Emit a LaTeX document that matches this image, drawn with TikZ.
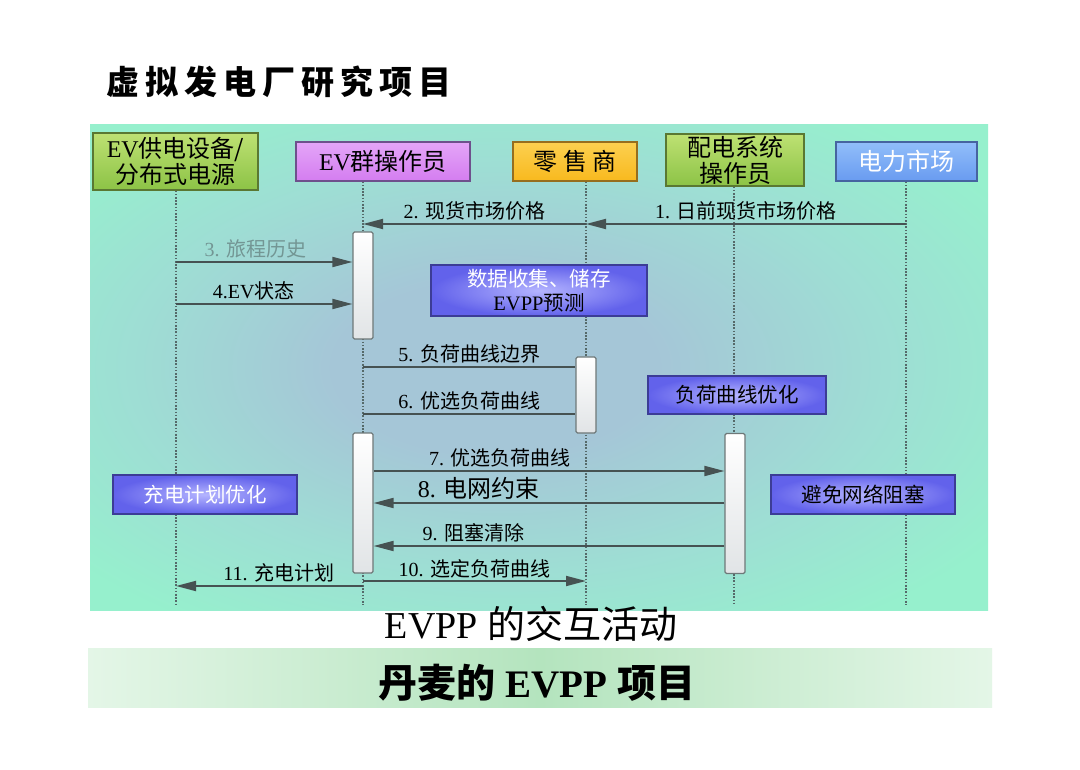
\documentclass[tikz,border=0pt]{standalone}
\usepackage{fontspec}
\setmainfont{Liberation Serif}
\newfontfamily\cjk{Noto Sans CJK SC}
\newfontfamily\cjktitle[LetterSpace=18]{Noto Sans CJK SC}
\newcommand\zh[1]{{\cjk #1}}
\usetikzlibrary{arrows.meta}
\definecolor{mint}{RGB}{150,240,205}
\definecolor{bgmid}{RGB}{165,198,215}
\definecolor{bgteal}{RGB}{158,222,212}
\definecolor{bandL}{RGB}{228,246,231}
\definecolor{bandM}{RGB}{180,228,190}
\definecolor{actgreen}{RGB}{140,195,70}
\definecolor{actgreenL}{RGB}{190,225,115}
\definecolor{actgreenD}{RGB}{90,120,50}
\definecolor{violet}{RGB}{212,125,240}
\definecolor{violetL}{RGB}{228,165,248}
\definecolor{violetD}{RGB}{110,80,140}
\definecolor{orange}{RGB}{248,185,30}
\definecolor{orangeL}{RGB}{252,208,80}
\definecolor{orangeD}{RGB}{150,110,30}
\definecolor{mktblue}{RGB}{105,155,240}
\definecolor{mktblueL}{RGB}{145,190,250}
\definecolor{mktblueD}{RGB}{70,100,160}
\definecolor{noteC}{RGB}{98,98,235}
\definecolor{noteL}{RGB}{180,180,255}
\definecolor{noteD}{RGB}{60,60,150}
\definecolor{barD}{RGB}{110,120,120}
\definecolor{barL}{RGB}{225,228,230}
\definecolor{msgC}{RGB}{70,82,82}
\definecolor{lifeC}{RGB}{85,105,105}
\definecolor{grayText}{RGB}{115,150,148}
\pgfdeclareradialshading{bgshade}{\pgfpoint{-3bp}{0bp}}{color(0bp)=(bgmid); color(9bp)=(bgmid);
  color(21bp)=(bgteal); color(32bp)=(mint); color(50bp)=(mint)}

\begin{document}
\begin{tikzpicture}[x=1pt, y=-1pt,
    actor/.style={line width=1.4pt, inner sep=0pt, align=center,
      font=\fontsize{24}{26}\selectfont},
    greenbox/.style={actor, draw=actgreenD, top color=actgreenL, bottom color=actgreen},
    violetbox/.style={actor, draw=violetD, top color=violetL, bottom color=violet},
    orangebox/.style={actor, draw=orangeD, top color=orangeL, bottom color=orange},
    bluebox/.style={actor, draw=mktblueD, top color=mktblueL, bottom color=mktblue, text=white},
    note/.style={draw=noteD, line width=1.4pt, inner color=noteL, outer color=noteC,
      inner sep=0pt, align=center, font=\fontsize{20.5}{24}\selectfont},
    actbar/.style={draw=barD, line width=1.2pt, rounded corners=1.5pt, top color=white,
      bottom color=barL, minimum width=20pt, inner sep=0pt},
    msg/.style={draw=msgC, line width=1.8pt},
    arr/.style={msg, -{Triangle[length=20pt,width=10pt]}},
    lbl/.style={font=\fontsize{20}{22}\selectfont, inner sep=1pt, above=2pt},
    lifeline/.style={draw=lifeC, line width=1.6pt, dash pattern=on 1.6pt off 1.6pt}]
  \useasboundingbox[fill=white] (0,0) rectangle (1080,770);

  % background of the diagram
  \shade[shading=bgshade] (90,125) rectangle (988,610);
  \shade[left color=bandL, right color=bandL, middle color=bandM] (88,648) rectangle (992,707);

  \node[anchor=west, font=\cjktitle\bfseries\fontsize{33}{36}\selectfont]
    (title) at (103,82) {虚拟发电厂研究项目};
  \node[font=\fontsize{38}{40}\selectfont] (caption) at (531,624) {EVPP \zh{的交互活动}};
  \node[font=\bfseries\fontsize{39}{42}\selectfont] (band) at (537,683)
    {\zh{\bfseries 丹麦的} EVPP \zh{\bfseries 项目}};

  % actors
  \node[greenbox, minimum width=165pt, minimum height=57pt]
    (ev) at (175.5,161.5) {EV\zh{供电设备/}\\\zh{分布式电源}};
  \node[violetbox, minimum width=174pt, minimum height=39pt]
    (agg) at (383,161.5) {EV\zh{群操作员}};
  \node[orangebox, minimum width=124pt, minimum height=39pt]
    (ret) at (575,161.5) {\zh{零 售 商}};
  \node[greenbox, minimum width=138pt, minimum height=52pt]
    (dso) at (735,160) {\zh{配电系统}\\\zh{操作员}};
  \node[bluebox, minimum width=141pt, minimum height=39pt]
    (mkt) at (906.5,161.5) {\zh{电力市场}};

  % lifelines
  \coordinate (evl) at (176,605);
  \coordinate (aggl) at (363,605);
  \coordinate (retl) at (586,605);
  \coordinate (dsol) at (734,605);
  \coordinate (mktl) at (906,605);
  \draw[lifeline] (ev.south -| evl) -- (evl);
  \draw[lifeline] (agg.south -| aggl) -- (aggl);
  \draw[lifeline] (ret.south -| retl) -- (retl);
  \draw[lifeline] (dso.south -| dsol) -- (dsol);
  \draw[lifeline] (mkt.south -| mktl) -- (mktl);

  % activation bars
  \node[actbar, minimum height=107pt] (bar1) at (363,285.5) {};
  \node[actbar, minimum height=140pt] (bar2) at (363,503) {};
  \node[actbar, minimum height=76pt] (bar3) at (586,395) {};
  \node[actbar, minimum height=140pt] (bar4) at (735,503.5) {};

  % notes
  \node[note, minimum width=216pt, minimum height=51pt] (collect) at (539,290.5)
    {\zh{\color{white}数据收集、储存}\\EVPP\zh{预测}};
  \node[note, minimum width=178pt, minimum height=38pt] (lcopt) at (737,395) {\zh{负荷曲线优化}};
  \node[note, minimum width=184pt, minimum height=39pt, text=white] (cpopt) at (205,494.5) {\zh{充电计划优化}};
  \node[note, minimum width=184pt, minimum height=39pt] (avoid) at (863,494.5) {\zh{避免网络阻塞}};

  % messages
  \draw[arr] (mktl |- 0,224) -- node[lbl] {1. \zh{日前现货市场价格}} (retl |- 0,224);
  \draw[arr] (retl |- 0,224) -- node[lbl] {2. \zh{现货市场价格}} (aggl |- 0,224);
  \draw[arr] (evl |- 0,262) -- node[lbl, pos=0.45, text=grayText] {3. \zh{旅程历史}} (bar1.west |- 0,262);
  \draw[arr] (evl |- 0,304) -- node[lbl, pos=0.44] {4.EV\zh{状态}} (bar1.west |- 0,304);
  \draw[msg] (aggl |- 0,367) -- node[lbl] {5. \zh{负荷曲线边界}} (bar3.west |- 0,367);
  \draw[msg] (aggl |- 0,414) -- node[lbl] {6. \zh{优选负荷曲线}} (bar3.west |- 0,414);
  \draw[arr] (bar2.east |- 0,471) -- node[lbl, pos=0.36] {7. \zh{优选负荷曲线}} (bar4.west |- 0,471);
  \draw[arr] (bar4.west |- 0,503) -- node[lbl, pos=0.70, font=\fontsize{24}{26}\selectfont] {8. \zh{电网约束}} (bar2.east |- 0,503);
  \draw[arr] (bar4.west |- 0,546) -- node[lbl, pos=0.715] {9. \zh{阻塞清除}} (bar2.east |- 0,546);
  \draw[arr] (aggl |- 0,581) -- node[lbl, above=-1pt] {10. \zh{选定负荷曲线}} (retl |- 0,581);
  \draw[arr] (aggl |- 0,586) -- node[lbl, pos=0.45, above=0pt] {11. \zh{充电计划}} (evl |- 0,586);
\end{tikzpicture}
\end{document}
